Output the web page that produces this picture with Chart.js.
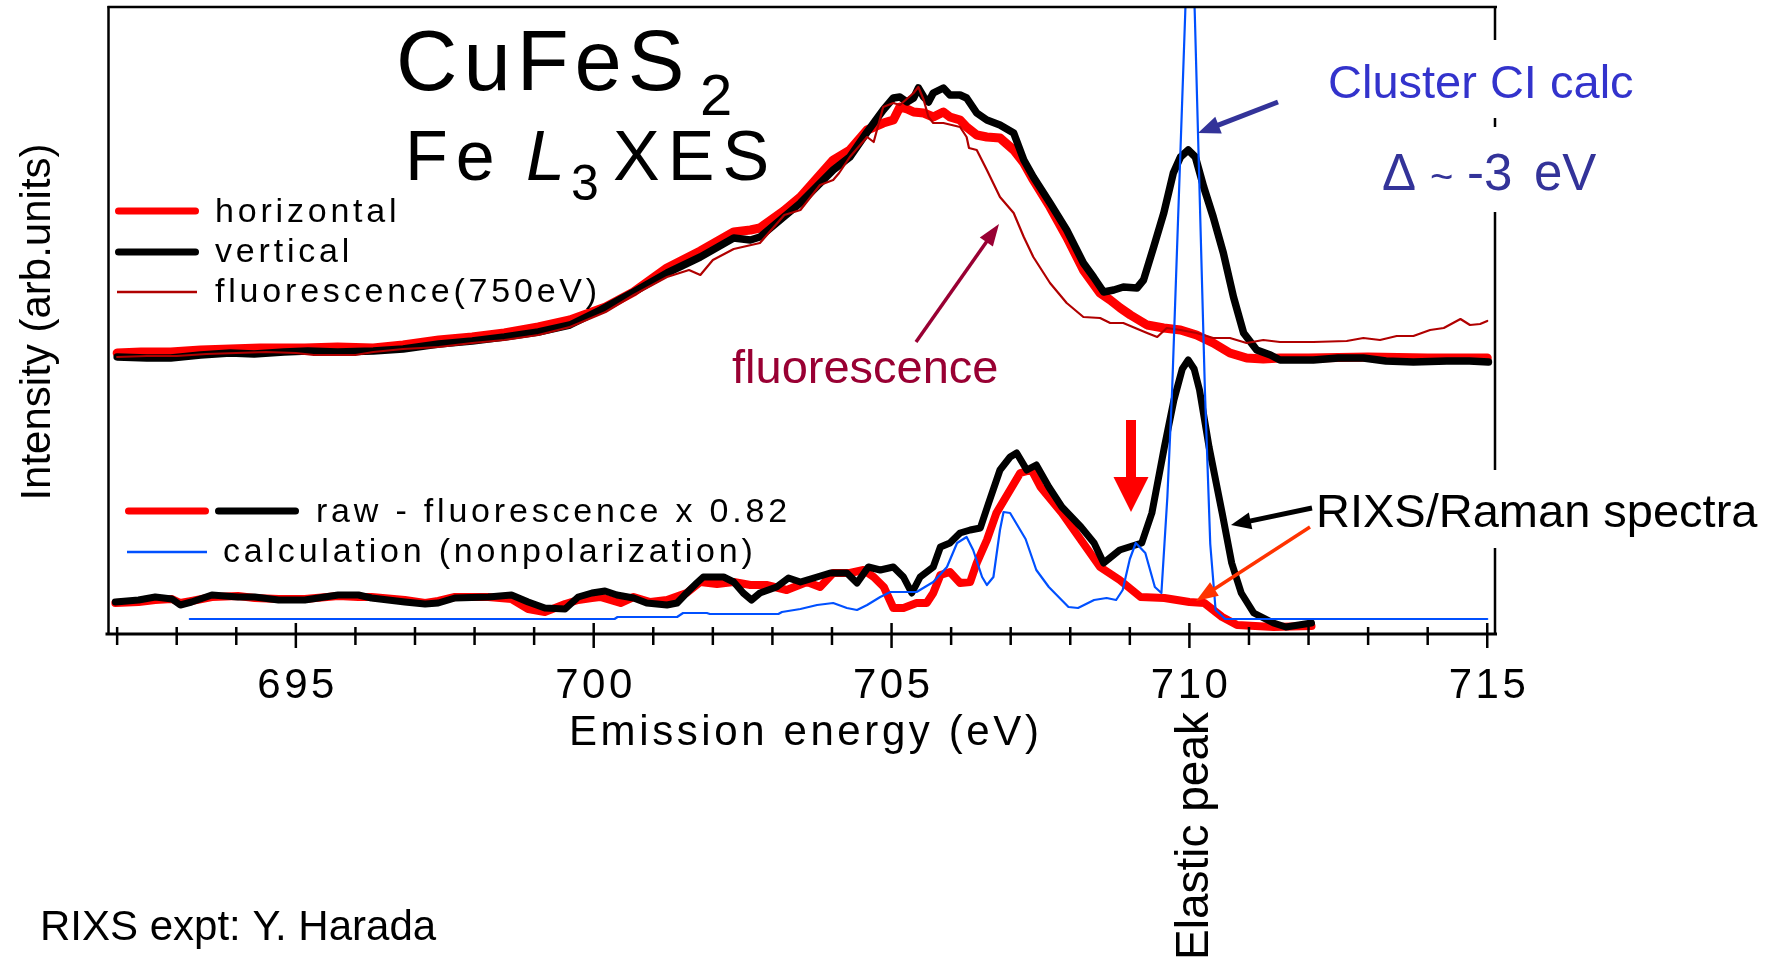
<!DOCTYPE html>
<html>
<head>
<meta charset="utf-8">
<script src="https://cdn.jsdelivr.net/npm/chart.js@4.4.1/dist/chart.umd.min.js"></script>
<style>
  html, body { margin: 0; padding: 0; background: #fff; overflow: hidden; }
  canvas { display: block; }
</style>
</head>
<body>
<canvas id="xes" width="1784" height="960"></canvas>
<script>
// ---- Fe L3 XES of CuFeS2: emission energy (eV) and intensity (arb. units) ----

// raw spectrum, horizontal polarization
const horizE = [692.0, 692.4, 692.9, 693.4, 693.9, 694.4, 695.15, 695.7, 696.3, 696.8, 697.4, 697.96, 698.5, 699.07, 699.6, 700.2, 700.67, 701.23, 701.79, 702.35, 702.63, 702.79, 703.19, 703.47, 704.02, 704.3, 704.59, 704.86, 705.03, 705.14, 705.26, 705.37, 705.54, 705.7, 705.87, 705.98, 706.15, 706.26, 706.43, 706.6, 706.82, 707.05, 707.22, 707.38, 707.66, 707.94, 708.22, 708.5, 708.67, 708.84, 709.01, 709.29, 709.57, 709.85, 710.12, 710.4, 710.68, 710.96, 711.24, 711.52, 712.0, 713.0, 714.0, 715.0];
const horizI = [281, 282, 282, 284, 285, 286, 286, 287, 286, 289, 294, 297, 301, 307, 314, 327, 342, 366, 383, 402, 404, 406, 423, 437, 474, 484, 504, 511, 514, 527, 525, 522, 521, 517, 522, 517, 514, 507, 499, 497, 496, 484, 471, 454, 427, 397, 364, 341, 334, 326, 319, 309, 306, 304, 299, 291, 281, 276, 275, 276, 276, 277, 276, 276];

// raw spectrum, vertical polarization
const vertE = [692.0, 692.5, 692.9, 693.4, 693.9, 694.3, 694.8, 695.2, 695.7, 696.3, 696.8, 697.4, 697.96, 698.5, 699.07, 699.6, 700.11, 700.67, 701.23, 701.79, 702.35, 702.63, 702.79, 703.19, 703.47, 704.02, 704.3, 704.59, 704.86, 705.03, 705.14, 705.26, 705.37, 705.45, 705.54, 705.62, 705.7, 705.87, 705.98, 706.15, 706.26, 706.43, 706.6, 706.82, 707.05, 707.22, 707.38, 707.66, 707.94, 708.22, 708.39, 708.56, 708.73, 708.89, 709.12, 709.23, 709.4, 709.57, 709.73, 709.85, 709.98, 710.1, 710.24, 710.4, 710.57, 710.74, 710.91, 711.13, 711.36, 711.52, 712.08, 712.5, 712.92, 713.3, 713.76, 714.32, 714.7, 715.02];
const vertI = [277, 276, 276, 279, 281, 280, 282, 283, 282, 283, 285, 290, 293, 297, 302, 309, 324, 342, 361, 377, 396, 394, 397, 417, 431, 464, 477, 502, 524, 536, 537, 532, 536, 546, 537, 532, 541, 546, 539, 539, 536, 521, 514, 509, 501, 474, 457, 431, 404, 371, 357, 342, 344, 347, 346, 354, 387, 421, 461, 477, 484, 477, 447, 417, 381, 337, 301, 284, 279, 274, 274, 276, 276, 273, 272, 273, 273, 272];

// fluorescence spectrum, excitation 750 eV
const fluoE = [692.0, 692.5, 693.0, 693.5, 694.0, 694.5, 695.0, 695.3, 696.0, 696.3, 696.8, 697.4, 697.96, 698.5, 699.07, 699.6, 700.2, 700.67, 701.23, 701.6, 701.79, 702.0, 702.35, 702.79, 703.2, 703.47, 703.8, 704.02, 704.12, 704.3, 704.59, 704.7, 704.86, 705.03, 705.14, 705.37, 705.45, 705.54, 705.62, 705.7, 705.87, 706.15, 706.26, 706.3, 706.43, 706.6, 706.82, 707.05, 707.22, 707.38, 707.66, 707.94, 708.22, 708.5, 708.67, 708.89, 709.29, 709.46, 709.62, 709.85, 710.12, 710.4, 710.68, 710.96, 711.24, 711.52, 712.08, 712.64, 712.92, 713.2, 713.48, 713.76, 714.04, 714.27, 714.55, 714.71, 714.88, 715.0];
const fluoI = [277, 278, 278, 280, 281, 282, 281, 279, 279, 282, 285, 287, 291, 294, 299, 307, 322, 339, 357, 364, 359, 374, 385, 391, 419, 424, 449, 454, 461, 477, 497, 492, 527, 531, 529, 541, 547, 534, 517, 511, 511, 507, 497, 486, 484, 464, 437, 421, 397, 377, 351, 331, 317, 316, 311, 311, 301, 297, 306, 304, 301, 296, 296, 291, 294, 292, 292, 293, 296, 294, 298, 298, 304, 306, 315, 309, 310, 313];

// raw - fluorescence x 0.82, horizontal
const rixsHE = [691.97, 692.36, 692.64, 692.92, 693.06, 693.25, 693.59, 694.03, 694.31, 694.71, 695.15, 695.71, 696.05, 696.27, 696.83, 697.17, 697.39, 697.67, 698.23, 698.62, 698.9, 699.18, 699.52, 699.74, 699.97, 700.11, 700.45, 700.67, 700.95, 701.23, 701.56, 701.79, 702.07, 702.35, 702.63, 702.9, 703.24, 703.58, 703.8, 704.02, 704.3, 704.53, 704.7, 704.87, 705.03, 705.2, 705.42, 705.59, 705.7, 705.82, 705.98, 706.15, 706.32, 706.43, 706.6, 706.76, 706.99, 707.16, 707.35, 707.5, 707.86, 708.18, 708.5, 708.83, 709.18, 709.58, 710.0, 710.25, 710.55, 710.8, 711.41, 712.05];
const rixsHI = [31, 32, 34, 35, 31, 33, 37, 38, 36, 35, 35, 38, 37, 37, 34, 31, 33, 37, 37, 35, 25, 22, 30, 34, 36, 37, 31, 37, 32, 34, 41, 52, 50, 52, 49, 49, 44, 52, 47, 61, 61, 64, 57, 47, 26, 26, 31, 31, 41, 59, 62, 51, 52, 71, 94, 121, 144, 161, 164, 147, 121, 94, 67, 54, 37, 36, 32, 31, 17, 9, 7, 8];

// raw - fluorescence x 0.82, vertical
const rixsVE = [691.97, 692.36, 692.64, 692.92, 693.06, 693.25, 693.59, 694.03, 694.31, 694.71, 695.15, 695.71, 696.05, 696.27, 696.83, 697.17, 697.39, 697.67, 698.23, 698.62, 698.9, 699.18, 699.52, 699.74, 699.97, 700.19, 700.39, 700.67, 700.89, 701.23, 701.4, 701.56, 701.73, 701.84, 702.18, 702.35, 702.51, 702.65, 702.79, 703.07, 703.27, 703.47, 703.75, 703.97, 704.25, 704.42, 704.61, 704.81, 705.03, 705.2, 705.34, 705.48, 705.7, 705.82, 705.98, 706.15, 706.32, 706.49, 706.63, 706.82, 706.99, 707.1, 707.27, 707.43, 707.64, 707.86, 708.18, 708.4, 708.56, 708.83, 709.2, 709.37, 709.58, 709.74, 709.88, 709.98, 710.08, 710.17, 710.33, 710.55, 710.71, 710.87, 711.08, 711.41, 711.62, 712.05];
const rixsVI = [32, 34, 37, 35, 29, 32, 39, 37, 37, 34, 34, 39, 39, 36, 32, 30, 31, 36, 37, 39, 32, 26, 25, 37, 41, 43, 39, 36, 31, 29, 31, 41, 51, 57, 57, 52, 41, 34, 41, 47, 56, 52, 57, 61, 61, 51, 67, 64, 67, 57, 41, 57, 67, 87, 91, 101, 104, 106, 131, 164, 177, 181, 164, 169, 147, 127, 107, 91, 71, 84, 91, 121, 187, 234, 265, 274, 265, 244, 187, 121, 71, 41, 21, 11, 7, 11];

// cluster CI calculation (nonpolarization), incl. elastic peak
const calcE = [693.22, 700.35, 700.4, 701.4, 701.5, 701.9, 701.95, 703.1, 703.16, 703.47, 703.75, 704.02, 704.25, 704.42, 704.59, 704.81, 704.98, 705.42, 705.7, 705.93, 706.1, 706.26, 706.37, 706.52, 706.6, 706.71, 706.82, 706.88, 706.99, 707.1, 707.25, 707.43, 707.64, 707.97, 708.13, 708.4, 708.61, 708.77, 708.88, 709.0, 709.1, 709.26, 709.42, 709.53, 709.63, 709.71, 709.93, 710.01, 710.09, 710.26, 710.35, 710.44, 710.6, 715.0];
const calcI = [15, 15, 17, 17, 21, 21, 20, 20, 22, 25, 29, 31, 26, 24, 29, 37, 42, 42, 52, 67, 91, 97, 84, 57, 49, 57, 104, 122, 121, 110, 95, 64, 47, 27, 26, 34, 36, 34, 44, 75, 91, 81, 47, 41, 137, 244, 621, 770, 621, 244, 90, 24, 15, 15];

// axis
const majorTicks = [695, 700, 705, 710, 715];
const tickLabels = ['695', '700', '705', '710', '715'];
const X_MIN = 691.855, X_MAX = 715.13, Y_MAX = 627;

const FONT = "'Liberation Sans', Arial, sans-serif";

function pts(E, I) {
  const n = Math.min(E.length, I.length);
  const out = [];
  for (let i = 0; i < n; i++) out.push({ x: E[i], y: I[i] });
  return out;
}

function series(E, I, color, width, order) {
  return {
    data: pts(E, I),
    borderColor: color,
    borderWidth: width,
    pointRadius: 0,
    tension: 0,
    fill: false,
    order: order,
    borderJoinStyle: 'round',
    borderCapStyle: 'round'
  };
}

function text(ctx, s, x, y, size, color, o) {
  o = o || {};
  ctx.save();
  ctx.font = (o.style || '') + ' ' + size + 'px ' + FONT;
  ctx.fillStyle = color;
  ctx.letterSpacing = (o.ls || 0) + 'px';
  ctx.textAlign = o.align || 'left';
  ctx.textBaseline = 'alphabetic';
  ctx.fillText(s, x, y);
  ctx.restore();
}

function arrow(ctx, x1, y1, x2, y2, color, lw, headLen, headW) {
  const a = Math.atan2(y2 - y1, x2 - x1);
  const bx = x2 - headLen * Math.cos(a), by = y2 - headLen * Math.sin(a);
  ctx.save();
  ctx.strokeStyle = color;
  ctx.fillStyle = color;
  ctx.lineWidth = lw;
  ctx.lineCap = 'butt';
  ctx.beginPath();
  ctx.moveTo(x1, y1);
  ctx.lineTo(bx + Math.cos(a), by + Math.sin(a));
  ctx.stroke();
  const px = -Math.sin(a) * headW / 2, py = Math.cos(a) * headW / 2;
  ctx.beginPath();
  ctx.moveTo(x2, y2);
  ctx.lineTo(bx + px, by + py);
  ctx.lineTo(bx - px, by - py);
  ctx.closePath();
  ctx.fill();
  ctx.restore();
}

function seg(ctx, x1, y1, x2, y2, color, lw, cap) {
  ctx.save();
  ctx.strokeStyle = color;
  ctx.lineWidth = lw;
  ctx.lineCap = cap || 'butt';
  ctx.beginPath();
  ctx.moveTo(x1, y1);
  ctx.lineTo(x2, y2);
  ctx.stroke();
  ctx.restore();
}

const decorations = {
  id: 'decorations',
  afterDatasetsDraw(chart) {
    const ctx = chart.ctx;
    const xs = chart.scales.x;
    const area = chart.chartArea;
    const L = area.left, R = area.right, T = area.top, B = area.bottom;

    // frame
    seg(ctx, L, T - 1, L, B + 1, '#000', 2.5);
    seg(ctx, L - 1, T, R + 2, T, '#000', 2.5);
    seg(ctx, R, T - 1, R, B + 1, '#000', 2.5);
    seg(ctx, L - 3, B, R + 2, B, '#000', 3);

    // ticks crossing the bottom axis: minor every 1 eV, major every 5 eV
    for (let e = Math.ceil(X_MIN); e <= X_MAX; e++) {
      const px = xs.getPixelForValue(e);
      const major = majorTicks.includes(e);
      seg(ctx, px, major ? B - 11 : B - 7, px, major ? B + 14 : B + 11, '#000', 2.5);
    }
    // tick labels
    ctx.save();
    ctx.font = '42px ' + FONT;
    ctx.letterSpacing = '3.5px';
    majorTicks.forEach((v, i) => {
      const w = ctx.measureText(tickLabels[i]).width - 3.5;
      ctx.fillStyle = '#000';
      ctx.textBaseline = 'alphabetic';
      ctx.fillText(tickLabels[i], xs.getPixelForValue(v) - w / 2, 698);
    });
    ctx.restore();

    // axis titles
    text(ctx, 'Emission energy (eV)', 569, 745, 42, '#000', { ls: 3.6 });
    ctx.save();
    ctx.translate(49.5, 322);
    ctx.rotate(-Math.PI / 2);
    text(ctx, 'Intensity (arb.units)', 0, 0, 42, '#000', { align: 'center' });
    ctx.restore();

    // white boxes behind right-hand labels
    ctx.save();
    ctx.fillStyle = '#fff';
    ctx.fillRect(1320, 40, 330, 78);
    ctx.fillRect(1370, 127, 240, 85);
    ctx.fillRect(1305, 470, 470, 78);
    ctx.restore();

    // title
    text(ctx, 'CuFeS', 396, 90, 85, '#000', { ls: 6 });
    text(ctx, '2', 700, 115, 58, '#000');
    text(ctx, 'Fe', 405, 180, 70, '#000', { ls: 8 });
    text(ctx, 'L', 526, 180, 70, '#000', { style: 'italic' });
    text(ctx, '3', 571, 200, 50, '#000');
    text(ctx, 'XES', 613, 180, 70, '#000', { ls: 8 });

    // legend, upper spectra
    seg(ctx, 118.5, 211, 195.5, 211, '#ff0000', 7, 'round');
    seg(ctx, 118.5, 252, 195.5, 252, '#000000', 7, 'round');
    seg(ctx, 117, 292, 197, 292, '#b00000', 2.5);
    text(ctx, 'horizontal', 215, 222, 34, '#000', { ls: 3.8 });
    text(ctx, 'vertical', 215, 262, 34, '#000', { ls: 3.8 });
    text(ctx, 'fluorescence(750eV)', 215, 302, 34, '#000', { ls: 3.8 });

    // legend, lower spectra
    seg(ctx, 128.5, 511, 205.5, 511, '#ff0000', 7, 'round');
    seg(ctx, 218.5, 511, 295.5, 511, '#000000', 7, 'round');
    seg(ctx, 127, 552, 207, 552, '#0050ff', 2.5);
    text(ctx, 'raw - fluorescence x 0.82', 316, 522, 34, '#000', { ls: 3.8 });
    text(ctx, 'calculation (nonpolarization)', 223, 562, 34, '#000', { ls: 3.8 });

    // annotations
    text(ctx, 'Cluster CI calc', 1328, 98, 47, '#3333cc');
    text(ctx, '\u0394', 1382, 190, 51, '#333399');
    text(ctx, '~', 1430, 190, 40, '#333399');
    text(ctx, '-3', 1467, 190, 51, '#333399');
    text(ctx, 'eV', 1534, 190, 51, '#333399');
    text(ctx, 'fluorescence', 732, 383, 47, '#990033');
    text(ctx, 'RIXS/Raman spectra', 1316, 527, 47, '#000');
    text(ctx, 'RIXS expt: Y. Harada', 40, 940, 42, '#000');
    ctx.save();
    ctx.translate(1208, 960);
    ctx.rotate(-Math.PI / 2);
    text(ctx, 'Elastic peak', 0, 0, 46, '#000');
    ctx.restore();

    arrow(ctx, 1278, 102, 1198, 133, '#333399', 5, 22, 18);
    arrow(ctx, 916, 342, 999, 224, '#990033', 3.5, 22, 16);
    arrow(ctx, 1131, 420, 1131, 512, '#ff0000', 10, 35, 35);
    arrow(ctx, 1312, 508, 1231, 525, '#000000', 5, 20, 17);
    arrow(ctx, 1310, 527, 1196, 601, '#ff3300', 3.5, 22, 16);
  }
};

new Chart(document.getElementById('xes'), {
  type: 'line',
  data: {
    datasets: [
      series(calcE, calcI, '#0050ff', 2.2, 1),
      series(fluoE, fluoI, '#b00000', 2.2, 2),
      series(vertE, vertI, '#000000', 7.5, 3),
      series(horizE, horizI, '#ff0000', 9, 4),
      series(rixsVE, rixsVI, '#000000', 7, 5),
      series(rixsHE, rixsHI, '#ff0000', 8, 6)
    ]
  },
  options: {
    responsive: false,
    animation: false,
    devicePixelRatio: 1,
    events: [],
    layout: { padding: { left: 108.5, right: 289, top: 7, bottom: 326 } },
    plugins: { legend: { display: false }, tooltip: { enabled: false } },
    scales: {
      x: { type: 'linear', min: X_MIN, max: X_MAX, display: false },
      y: { type: 'linear', min: 0, max: Y_MAX, display: false }
    }
  },
  plugins: [decorations]
});
</script>
</body>
</html>
